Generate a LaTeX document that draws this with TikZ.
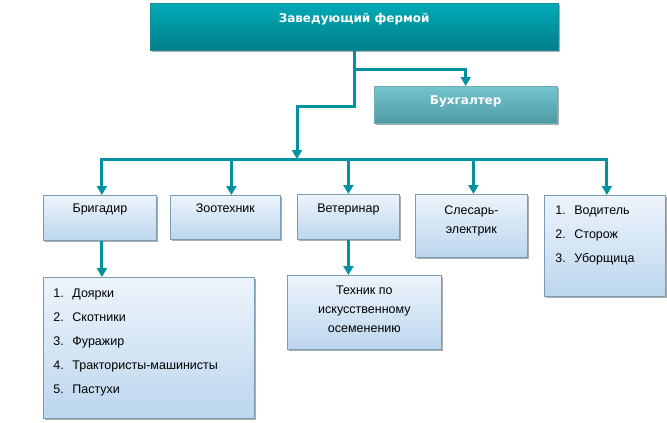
\documentclass[tikz,border=0pt]{standalone}
\usepackage{fontspec}
\setmainfont{Liberation Sans}
\newfontfamily\headfont{DejaVu Sans}
\usetikzlibrary{arrows.meta, shadows}
\definecolor{headtop}{HTML}{00AAB8}
\definecolor{headbot}{HTML}{007F8A}
\definecolor{buhtop}{HTML}{74C5CF}
\definecolor{buhbot}{HTML}{4E9AA3}
\definecolor{celltop}{HTML}{EDF4FB}
\definecolor{cellbot}{HTML}{BCD6EE}
\definecolor{celledge}{HTML}{7C9CB4}
\definecolor{wirecolor}{HTML}{00939F}

% top-aligned text inside a box of fixed size
\newcommand{\boxtext}[4]{\parbox[t][#2][t]{#1}{\rule{0pt}{#3}#4}}
\newcommand{\listnum}[1]{\makebox[19pt][l]{#1}}

\begin{document}
\begin{tikzpicture}[
    x=1pt, y=-1pt,
    every node/.style={font=\fontsize{12.5}{24}\selectfont},
    base/.style={rectangle, inner sep=0pt, anchor=north west,
        drop shadow={shadow xshift=1.6pt, shadow yshift=-1.8pt, fill=black!45, opacity=0.7}},
    chief/.style={base, top color=headtop, bottom color=headbot, draw=headbot!90,
        text=white, font=\headfont\fontsize{12}{24}\selectfont\bfseries},
    acct/.style={base, top color=buhtop, bottom color=buhbot, draw=buhbot!80,
        text=white, font=\headfont\fontsize{12}{24}\selectfont\bfseries},
    unit/.style={base, top color=celltop, bottom color=cellbot, draw=celledge, line width=0.8pt},
    wire/.style={wirecolor, line width=3pt, -{Triangle[width=10pt, length=9pt]}},
]
\useasboundingbox (0,0) rectangle (667,423);

% ============================================================ management
\node[chief] (head) at (150,3)
    {\boxtext{408pt}{47pt}{19pt}{\centering Заведующий фермой}};
\node[acct] (buh) at (374,86)
    {\boxtext{183pt}{37pt}{18pt}{\centering Бухгалтер}};

% ============================================================ departments
\node[unit] (brig) at (43,195)
    {\boxtext{113pt}{45pt}{17pt}{\centering Бригадир}};
\node[unit] (zoo) at (170,195)
    {\boxtext{110pt}{44pt}{17pt}{\centering Зоотехник}};
\node[unit] (vet) at (297,194)
    {\boxtext{102pt}{45pt}{18pt}{\centering Ветеринар}};
\node[unit] (sles) at (415,194)
    {\boxtext{112pt}{63pt}{20pt}{\centering\fontsize{12.5}{19}\selectfont Слесарь-\\электрик}};
\node[unit] (misc) at (544,195)
    {\boxtext{121pt}{101pt}{19pt}{\hspace*{11pt}\listnum{1.}Водитель\\
        \hspace*{11pt}\listnum{2.}Сторож\\ \hspace*{11pt}\listnum{3.}Уборщица}};

% ============================================================ staff under them
\node[unit] (staff) at (43,277)
    {\boxtext{211pt}{141pt}{20pt}{\hspace*{10pt}\listnum{1.}Доярки\\
        \hspace*{10pt}\listnum{2.}Скотники\\ \hspace*{10pt}\listnum{3.}Фуражир\\
        \hspace*{10pt}\listnum{4.}Трактористы-машинисты\\ \hspace*{10pt}\listnum{5.}Пастухи}};
\node[unit] (tech) at (287,275)
    {\boxtext{154pt}{74pt}{19pt}{\centering\fontsize{12.5}{19}\selectfont Техник по\\
        искусственному\\ осеменению}};

% ============================================================ connectors
\coordinate (split) at (354,69);
\coordinate (drop) at (297,106);
\coordinate (bus) at (297,159);

\draw[wire] (split) -| (buh.north);
\draw[wire] (head.south) |- (drop) -- (bus);

\draw[wire] (bus) -| ([xshift=2pt]brig.north);
\draw[wire] (bus) -| ([xshift=2pt]misc.north);
\draw[wire] (bus -| zoo.north) ++(6,0) coordinate (zootop) -- (zootop |- zoo.north);
\draw[wire] (bus -| vet.north) -- (vet.north);
\draw[wire] (bus -| sles.north) ++(2,0) coordinate (slestop) -- (slestop |- sles.north);

\draw[wire] ([xshift=2pt]brig.south) -- ([xshift=2pt]brig.south |- staff.north);
\draw[wire] (vet.south) -- (vet.south |- tech.north);

\end{tikzpicture}
\end{document}
